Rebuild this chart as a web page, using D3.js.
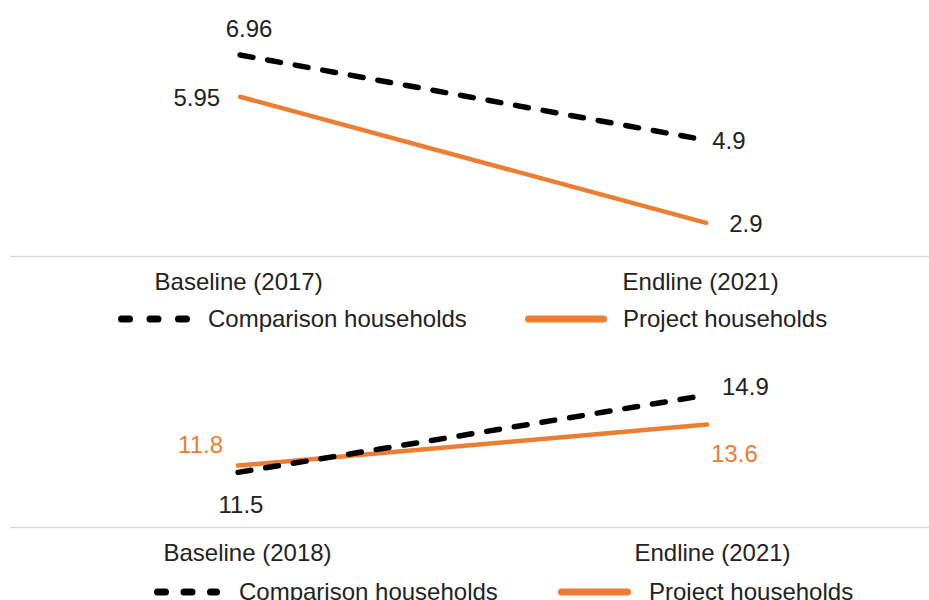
<!DOCTYPE html>
<html>
<head>
<meta charset="utf-8">
<script src="https://cdn.jsdelivr.net/npm/d3@7"></script>
<style>
  body { margin: 0; background: #fff; }
  svg { display: block; font-family: 'Liberation Sans', Arial, sans-serif; }
</style>
</head>
<body>
<div id="chart"></div>
<script>
// data
var topCategories = ['Baseline (2017)', 'Endline (2021)'];
var topComparison = [6.96, 4.9];
var topProject = [5.95, 2.9];

var bottomCategories = ['Baseline (2018)', 'Endline (2021)'];
var bottomComparison = [11.5, 14.9];
var bottomProject = [11.8, 13.6];

var seriesNames = ['Comparison households', 'Project households'];

// styles
var black = '#000000';
var orange = '#ED7D31';
var textColor = '#222222';
var axisColor = '#d9d9d9';
var fontSize = 24;

var width = 929, height = 600;

var svg = d3.select('#chart').append('svg')
    .attr('width', width)
    .attr('height', height);

function px(v) { return v + 'px'; }

function drawPanel(opts) {
    var g = svg.append('g');

    var x = d3.scalePoint()
        .domain(opts.categories)
        .range([10, 929])
        .padding(opts.padding)
        .align(opts.align);

    var y = d3.scaleLinear()
        .domain(opts.yDomain)
        .range([opts.axisY, opts.topY]);

    // category axis
    var axis = g.append('g')
        .attr('transform', 'translate(0,' + opts.axisY + ')')
        .call(d3.axisBottom(x).tickSize(0).tickSizeOuter(0).tickPadding(17));
    axis.select('.domain')
        .attr('stroke', axisColor)
        .attr('stroke-width', 1.5);
    axis.selectAll('text')
        .attr('dx', function(d, i) { return opts.tickShift[i]; })
        .attr('fill', textColor)
        .style('font-family', "'Liberation Sans', Arial, sans-serif")
        .style('font-size', px(fontSize));

    var line = d3.line()
        .x(function(d, i) { return x(opts.categories[i]); })
        .y(function(d) { return y(d); });

    // project (solid orange)
    g.append('path')
        .datum(opts.project)
        .attr('d', line)
        .attr('fill', 'none')
        .attr('stroke', orange)
        .attr('stroke-width', 4.5)
        .attr('stroke-linecap', 'round');

    // comparison (dashed black)
    g.append('path')
        .datum(opts.comparison)
        .attr('d', line)
        .attr('fill', 'none')
        .attr('stroke', black)
        .attr('stroke-width', 5.5)
        .attr('stroke-linecap', 'round')
        .attr('stroke-dasharray', '13,15');

    // data labels
    function label(values, i, place, color) {
        var cx = x(opts.categories[i]);
        var cy = y(values[i]);
        g.append('text')
            .attr('x', cx + place[0])
            .attr('y', cy + place[1])
            .attr('dy', '0.35em')
            .attr('text-anchor', place[2])
            .attr('fill', color)
            .style('font-size', px(fontSize))
            .text(values[i]);
    }
    label(opts.comparison, 0, opts.labelPlace.comparison[0], textColor);
    label(opts.comparison, 1, opts.labelPlace.comparison[1], textColor);
    label(opts.project, 0, opts.labelPlace.project[0], opts.projectLabelColor);
    label(opts.project, 1, opts.labelPlace.project[1], opts.projectLabelColor);

    // legend
    var lg = g.append('g');
    var ly = opts.legendY;
    lg.append('line')
        .attr('x1', opts.legend[0][0] + 3.5).attr('x2', opts.legend[0][1] - 3.5)
        .attr('y1', ly).attr('y2', ly)
        .attr('stroke', black)
        .attr('stroke-width', 7)
        .attr('stroke-linecap', 'round')
        .attr('stroke-dasharray', opts.legendDash);
    lg.append('text')
        .attr('x', opts.legend[0][2])
        .attr('y', ly)
        .attr('dy', '0.35em')
        .attr('fill', textColor)
        .style('font-size', px(fontSize))
        .text(seriesNames[0]);
    lg.append('line')
        .attr('x1', opts.legend[1][0] + 3.5).attr('x2', opts.legend[1][1] - 3.5)
        .attr('y1', ly).attr('y2', ly)
        .attr('stroke', orange)
        .attr('stroke-width', 7)
        .attr('stroke-linecap', 'round');
    lg.append('text')
        .attr('x', opts.legend[1][2])
        .attr('y', ly)
        .attr('dy', '0.35em')
        .attr('fill', textColor)
        .style('font-size', px(fontSize))
        .text(seriesNames[1]);
}

drawPanel({
    categories: topCategories,
    comparison: topComparison,
    project: topProject,
    padding: 0.486,
    align: 0.508,
    yDomain: [2.1, 8],
    axisY: 256,
    topY: 12,
    tickShift: [-2, -6],
    labelPlace: {
        comparison: [[9, -26, 'middle'], [6, 0, 'start']],
        project: [[-20, 1, 'end'], [23, 1, 'start']]
    },
    projectLabelColor: textColor,
    legendY: 319,
    legendDash: '8,20.5',
    legend: [[118, 190, 208], [525, 607, 623]]
});

drawPanel({
    categories: bottomCategories,
    comparison: bottomComparison,
    project: bottomProject,
    padding: 0.4797,
    align: 0.5067,
    yDomain: [9.1, 16],
    axisY: 527,
    topY: 370,
    tickShift: [9, 5],
    labelPlace: {
        comparison: [[3, 32, 'middle'], [15, -8, 'start']],
        project: [[-15, -21, 'end'], [4, 29, 'start']]
    },
    projectLabelColor: orange,
    legendY: 592,
    legendDash: '8,18.5',
    legend: [[154, 220, 239], [558, 631, 649]]
});
</script>
</body>
</html>
